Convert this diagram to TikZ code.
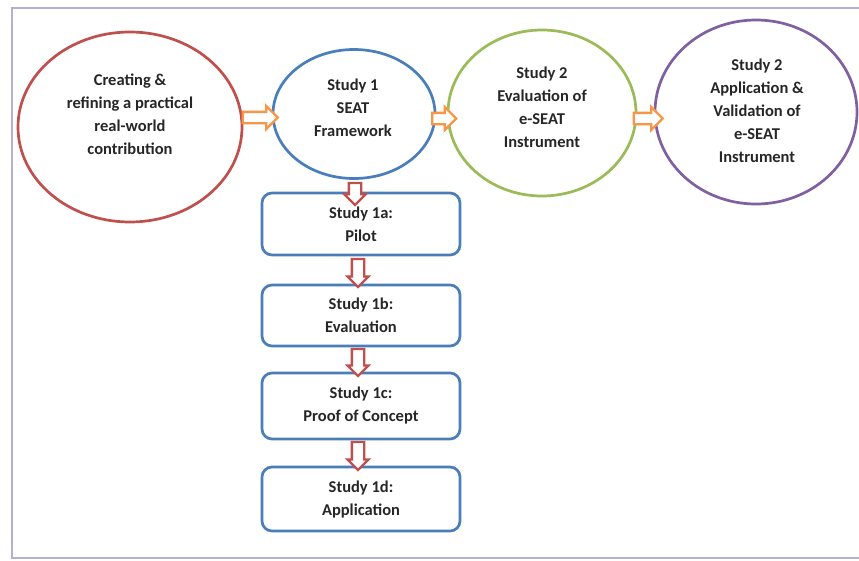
\documentclass[tikz,border=0pt]{standalone}
\usepackage{fontspec}
\setmainfont{Carlito}
\usetikzlibrary{shapes.geometric,shapes.arrows,calc}
\definecolor{cred}{HTML}{C0504D}
\definecolor{cblue}{HTML}{4A7EBB}
\definecolor{cgreen}{HTML}{9BBB59}
\definecolor{cpurple}{HTML}{7F60A0}
\definecolor{corange}{HTML}{F79646}
\definecolor{cframe}{HTML}{B8AED2}
\definecolor{ctext}{HTML}{262626}
\begin{document}
\begin{tikzpicture}[x=1pt,y=-1pt,
  oval/.style={ellipse,draw,line width=2.7pt,inner sep=0pt},
  lbl/.style={align=center,text=ctext,font=\bfseries\fontsize{16.5}{23}\selectfont},
  stepbox/.style={draw=cblue,line width=2.7pt,rounded corners=10pt,minimum width=198pt,inner sep=0pt,lbl},
  harrow/.style={single arrow,draw=corange,fill=white,line width=2.3pt,inner xsep=0pt,inner ysep=4.5pt,single arrow head extend=6pt},
  varrow/.style={single arrow,draw=cred,fill=white,line width=2.3pt,inner xsep=0pt,inner ysep=5pt,single arrow head extend=4.5pt,rotate=-90}]
\useasboundingbox (0,0) rectangle (859,560);
\fill[white] (0,0) rectangle (859,560);
\draw[cframe,line width=2.5pt] (880,8) -- (12,8) -- (12,558) -- (880,558);
% ellipses
\node[oval,draw=cred,minimum width=224pt,minimum height=190pt] (e0) at (130,127) {};
\node[oval,draw=cblue,minimum width=162pt,minimum height=129pt] (e1) at (354,114) {};
\node[oval,draw=cgreen,minimum width=188pt,minimum height=166pt] (e2) at (542,113) {};
\node[oval,draw=cpurple,minimum width=202pt,minimum height=184pt] (e3) at (756,112) {};
\node[lbl] (t0) at (130,114) {Creating \&\\refining a practical\\real-world\\contribution};
\node[lbl] (t1) at (353,108) {Study 1\\SEAT\\Framework};
\node[lbl] (t2) at (542,107) {Study 2\\Evaluation of\\e-SEAT\\Instrument};
\node[lbl] (t3) at (757,111) {Study 2\\Application \&\\Validation of\\e-SEAT\\Instrument};
% boxes
\node[stepbox,minimum height=62pt] (b1) at (361,224) {Study 1a:\\Pilot};
\node[stepbox,minimum height=61pt] (b2) at (361,315.5) {Study 1b:\\Evaluation};
\node[stepbox,minimum height=66pt] (b3) at (361,406) {Study 1c:\\Proof of Concept};
\node[stepbox,minimum height=64pt] (b4) at (361,499) {Study 1d:\\Application};
% horizontal arrows
\node[harrow,minimum height=35pt] (h1) at ($(e0.east)!0.5!(e1.west)+(0,-3)$) {};
\node[harrow,minimum height=24pt] (h2) at ($(e1.east)!0.5!(e2.west)+(0,5)$) {};
\node[harrow,minimum height=29pt] (h3) at ($(e2.east)!0.5!(e3.west)+(0,6)$) {};
% vertical arrows
\node[varrow,minimum height=22pt] (v0) at ($(e1.south)+(1,11)$) {};
\node[varrow,minimum height=28pt] (v1) at ($(b1.south)!0.5!(b2.north)+(-3,0)$) {};
\node[varrow,minimum height=27pt] (v2) at ($(b2.south)!0.5!(b3.north)+(-3,0)$) {};
\node[varrow,minimum height=28pt] (v3) at ($(b3.south)!0.5!(b4.north)+(-3,0)$) {};
\end{tikzpicture}
\end{document}
